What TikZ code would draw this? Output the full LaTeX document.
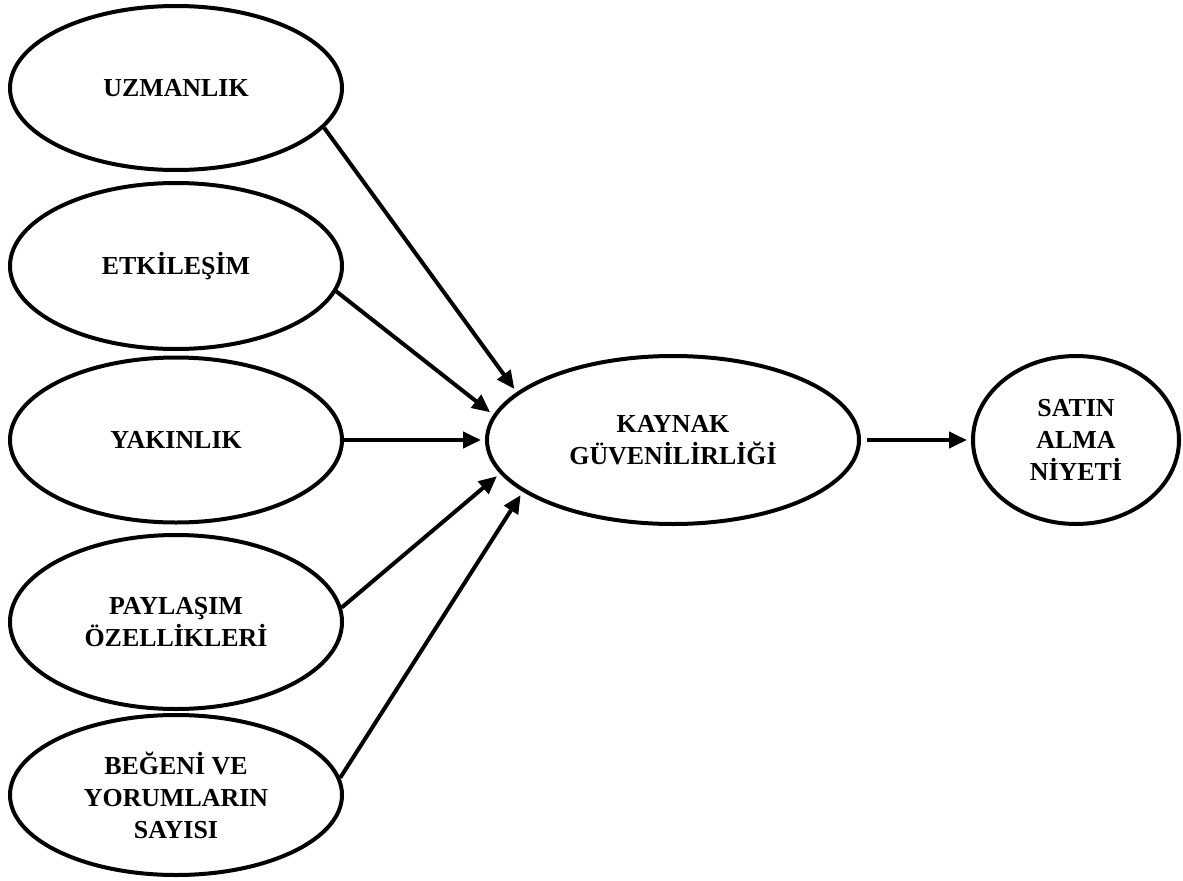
\documentclass[tikz,border=0pt]{standalone}
\usepackage{fontspec}
\setmainfont{Liberation Serif}
\usetikzlibrary{shapes.geometric,arrows.meta}
\begin{document}
\begin{tikzpicture}[x={(1bp,0)},y={(0,-1bp)},
  oval/.style={ellipse,draw,line width=4bp,inner sep=0pt,align=center,
    font=\fontsize{26}{32}\selectfont\bfseries},
  leftoval/.style={oval,minimum width=332bp},
  link/.style={line width=4bp,-{Triangle[length=18bp,width=16bp]},shorten >=4bp}]
\useasboundingbox (0,0) rectangle (1183,881);

% factors on the left
\node[leftoval,minimum height=164bp] (uz) at (176,88)  {UZMANLIK};
\node[leftoval,minimum height=166bp] (et) at (176,266) {ETK\.{I}LE\c{S}\.{I}M};
\node[leftoval,minimum height=165bp] (ya) at (176,440) {YAKINLIK};
\node[leftoval,minimum height=174bp] (pa) at (176,622) {PAYLA\c{S}IM\\\"{O}ZELL\.{I}KLER\.{I}};
\node[leftoval,minimum height=160bp] (be) at (176,795) {BE\u{G}EN\.{I} VE\\YORUMLARIN\\SAYISI};

% mediator and outcome
\node[oval,minimum width=372bp,minimum height=168bp] (ky) at (673,440) {KAYNAK\\G\"{U}VEN\.{I}L\.{I}RL\.{I}\u{G}\.{I}};
\node[oval,minimum width=206bp,minimum height=168bp] (sa) at (1076,440) {SATIN\\ALMA\\N\.{I}YET\.{I}};

% paths
\draw[link] (uz.-15) -- (ky.163);
\draw[link] (et.-9)  -- (ky.172);
\draw[link] (ya.east) -- (ky.west);
\draw[link] (pa.5)   -- (ky.-169);
\draw[link] (be.6)   -- (ky.-161);
\draw[link,shorten <=6bp] (ky.east) -- (sa.west);
\end{tikzpicture}
\end{document}
